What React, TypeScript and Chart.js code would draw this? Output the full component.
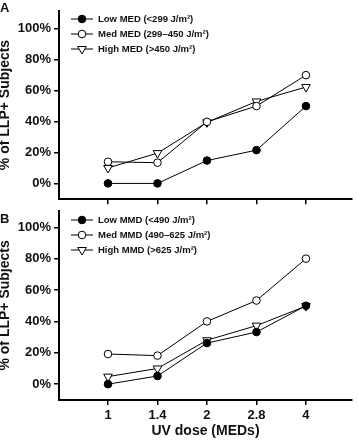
import React, { useEffect, useRef } from 'react';
import { Chart, registerables } from 'chart.js';

Chart.register(...registerables);

const doseLabels = ['1', '1.4', '2', '2.8', '4'];
const yTickValues = [0, 20, 40, 60, 80, 100];

const lowMED = [0, 0, 14.8, 21.5, 50];
const medMED = [14, 13.4, 39.8, 50, 70];
const highMED = [10, 19.6, 39.5, 53, 62.3];

const lowMMD = [0, 5.2, 26.2, 33.2, 50];
const medMMD = [19.2, 18.2, 40, 53.3, 80];
const highMMD = [4.8, 10, 28, 37.3, 49.8];

const labelsA = ['Low MED (<299 J/m²)', 'Med MED (299–450 J/m²)', 'High MED (>450 J/m²)'];
const labelsB = ['Low MMD (<490 J/m²)', 'Med MMD (490–625 J/m²)', 'High MMD (>625 J/m²)'];

const FONT = '"Liberation Sans", Arial, Helvetica, sans-serif';
const INK = '#111';

function drawMarker(ctx: CanvasRenderingContext2D, style: string, x: number, y: number, r: number, fill: string) {
  ctx.beginPath();
  if (style === 'triangle') {
    let rad = Math.PI;
    ctx.moveTo(x + Math.sin(rad) * r, y - Math.cos(rad) * r);
    rad += (2 * Math.PI) / 3;
    ctx.lineTo(x + Math.sin(rad) * r, y - Math.cos(rad) * r);
    rad += (2 * Math.PI) / 3;
    ctx.lineTo(x + Math.sin(rad) * r, y - Math.cos(rad) * r);
    ctx.closePath();
  } else {
    ctx.arc(x, y, r, 0, Math.PI * 2);
  }
  ctx.fillStyle = fill;
  ctx.fill();
  ctx.lineWidth = 1;
  ctx.strokeStyle = '#000';
  ctx.stroke();
}

const inlineLegend = {
  id: 'inlineLegend',
  afterDraw(chart: any, _args: any, opts: any) {
    const ctx = chart.ctx as CanvasRenderingContext2D;
    ctx.save();
    chart.data.datasets.forEach((ds: any, i: number) => {
      const y = opts.y + i * opts.gap;
      const x0 = opts.x;
      const x1 = opts.x + 22;
      ctx.beginPath();
      ctx.strokeStyle = '#000';
      ctx.lineWidth = 1;
      ctx.moveTo(x0, y);
      ctx.lineTo(x1, y);
      ctx.stroke();
      drawMarker(ctx, ds.pointStyle, (x0 + x1) / 2, y, ds.pointRadius, ds.pointBackgroundColor);
      ctx.fillStyle = INK;
      ctx.font = `bold 9.5px ${FONT}`;
      ctx.textBaseline = 'middle';
      ctx.textAlign = 'left';
      ctx.fillText(ds.label, opts.textX, y);
    });
    ctx.font = `bold 13px ${FONT}`;
    ctx.fillStyle = INK;
    ctx.textBaseline = 'middle';
    ctx.textAlign = 'left';
    ctx.fillText(opts.letter, opts.letterX, opts.letterY);
    ctx.restore();
  },
};

function makeDatasets(series: number[][], labels: string[]) {
  const styles = [
    { pointStyle: 'circle', fill: '#000', r: 3.8, rot: 0 },
    { pointStyle: 'circle', fill: '#fff', r: 3.8, rot: 0 },
    { pointStyle: 'triangle', fill: '#fff', r: 5, rot: 180 },
  ];
  return series.map((vals, i) => ({
    label: labels[i],
    data: vals.map((v, j) => ({ x: j, y: v })),
    borderColor: '#000',
    borderWidth: 1,
    backgroundColor: styles[i].fill,
    pointBackgroundColor: styles[i].fill,
    pointBorderColor: '#000',
    pointBorderWidth: 1,
    pointRadius: styles[i].r,
    pointStyle: styles[i].pointStyle,
    pointRotation: styles[i].rot,
    tension: 0,
    fill: false,
  }));
}

function makeConfig(series: number[][], labels: string[], opts: any): any {
  const { yMin, yMax, showX, topPad, xHeight, letter, legendY, letterY } = opts;
  return {
    type: 'line',
    data: { datasets: makeDatasets(series, labels) },
    plugins: [inlineLegend],
    options: {
      animation: false,
      responsive: false,
      maintainAspectRatio: false,
      devicePixelRatio: 1,
      layout: { padding: { left: 0, right: 1, top: topPad, bottom: 0 } },
      plugins: {
        legend: { display: false },
        tooltip: { enabled: false },
        inlineLegend: { x: 71, y: legendY, gap: 15, textX: 98, letter, letterX: 0, letterY },
      },
      scales: {
        x: {
          type: 'linear',
          min: -0.99,
          max: 4.93,
          afterBuildTicks: (axis: any) => {
            axis.ticks = doseLabels.map((_, i) => ({ value: i }));
          },
          afterFit: (axis: any) => {
            axis.height = xHeight;
          },
          border: { display: true, color: '#000', width: 2 },
          grid: { display: true, drawOnChartArea: false, drawTicks: true, tickLength: 5, color: '#000', lineWidth: 1.5 },
          ticks: {
            display: showX,
            padding: 3,
            color: INK,
            font: { family: FONT, size: 13, weight: 'bold' },
            maxRotation: 0,
            autoSkip: false,
            callback: (v: number) => doseLabels[v] ?? '',
          },
          title: {
            display: showX,
            text: 'UV dose (MEDs)',
            color: INK,
            font: { family: FONT, size: 14, weight: 'bold' },
            padding: { top: 0, bottom: 0 },
          },
        },
        y: {
          type: 'linear',
          min: yMin,
          max: yMax,
          afterBuildTicks: (axis: any) => {
            axis.ticks = yTickValues.map((v) => ({ value: v }));
          },
          afterFit: (axis: any) => {
            axis.width = 59;
          },
          border: { display: true, color: '#000', width: 2 },
          grid: { display: true, drawOnChartArea: false, drawTicks: true, tickLength: 5, color: '#000', lineWidth: 1.5 },
          ticks: {
            padding: 3,
            color: INK,
            font: { family: FONT, size: 13, weight: 'bold' },
            callback: (v: number) => `${v}%`,
          },
          title: {
            display: true,
            text: '% of LLP+ Subjects',
            color: INK,
            font: { family: FONT, size: 14, weight: 'bold' },
            padding: { top: -3, bottom: 0 },
          },
        },
      },
    },
  };
}

export default function App() {
  const refA = useRef<HTMLCanvasElement>(null);
  const refB = useRef<HTMLCanvasElement>(null);

  useEffect(() => {
    const chartA = new Chart(
      refA.current as HTMLCanvasElement,
      makeConfig([lowMED, medMED, highMED], labelsA, {
        yMin: -10.2,
        yMax: 111.6,
        showX: false,
        topPad: 0,
        xHeight: 10,
        letter: 'A',
        legendY: 19,
        letterY: 8,
      })
    );
    const chartB = new Chart(
      refB.current as HTMLCanvasElement,
      makeConfig([lowMMD, medMMD, highMMD], labelsB, {
        yMin: -10.1,
        yMax: 110.5,
        showX: true,
        topPad: 1,
        xHeight: 40,
        letter: 'B',
        legendY: 20,
        letterY: 19,
      })
    );
    return () => {
      chartA.destroy();
      chartB.destroy();
    };
  }, []);

  return (
    <div style={{ position: 'fixed', left: 0, top: 0, width: 358, height: 440, background: '#fff' }}>
      <canvas ref={refA} width={358} height={210} style={{ position: 'absolute', left: 0, top: 0, width: 358, height: 210 }} />
      <canvas ref={refB} width={358} height={240} style={{ position: 'absolute', left: 0, top: 200, width: 358, height: 240 }} />
    </div>
  );
}
